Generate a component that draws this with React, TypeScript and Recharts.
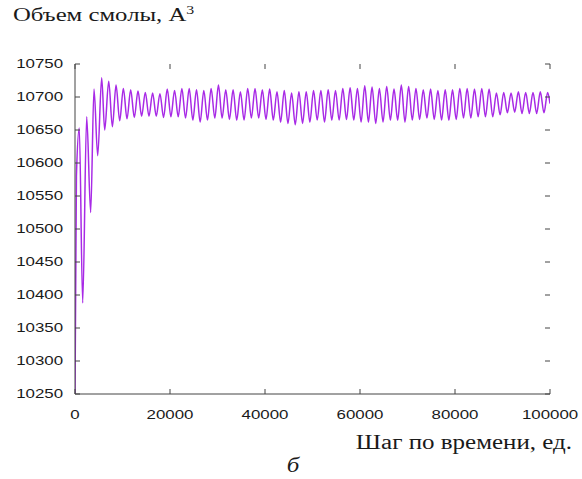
import React from 'react';
import { Line, LineChart, XAxis, YAxis } from 'recharts';

// extrema of the oscillation (time step -> resin volume)
const steps = [
  0, 300, 900, 1620, 2460, 3300, 4000, 4780, 5620, 6250,
  7100, 7870, 8640, 9410, 10180, 10950, 11720, 12490, 13260, 14030,
  14800, 15570, 16340, 17110, 17880, 18650, 19420, 20190, 20960, 21730,
  22500, 23270, 24040, 24810, 25580, 26350, 27120, 27890, 28660, 29430,
  30200, 30970, 31740, 32510, 33280, 34050, 34820, 35590, 36360, 37130,
  37900, 38670, 39440, 40210, 40980, 41750, 42520, 43290, 44060, 44830,
  45600, 46370, 47140, 47910, 48680, 49450, 50220, 50990, 51760, 52530,
  53300, 54070, 54840, 55610, 56380, 57150, 57920, 58690, 59460, 60230,
  61000, 61770, 62540, 63310, 64080, 64850, 65620, 66390, 67160, 67930,
  68700, 69470, 70240, 71010, 71780, 72550, 73320, 74090, 74860, 75630,
  76400, 77170, 77940, 78710, 79480, 80250, 81020, 81790, 82560, 83330,
  84100, 84870, 85640, 86410, 87180, 87950, 88720, 89490, 90260, 91030,
  91800, 92570, 93340, 94110, 94880, 95650, 96420, 97190, 97960, 98730,
  99500, 100000,
];

const volume = [
  10250, 10580, 10653, 10388, 10670, 10525, 10712, 10611, 10729, 10650,
  10724, 10655, 10718, 10664, 10713, 10667, 10711, 10669, 10709, 10671,
  10707, 10671, 10706, 10671, 10705, 10669, 10712, 10670, 10710, 10670,
  10713, 10668, 10713, 10665, 10711, 10662, 10710, 10665, 10713, 10668,
  10718, 10668, 10711, 10666, 10711, 10665, 10708, 10665, 10713, 10668,
  10713, 10668, 10711, 10666, 10712, 10665, 10708, 10662, 10710, 10660,
  10706, 10658, 10708, 10660, 10708, 10662, 10710, 10665, 10710, 10662,
  10711, 10665, 10710, 10665, 10713, 10666, 10714, 10665, 10713, 10662,
  10717, 10662, 10715, 10660, 10713, 10662, 10716, 10665, 10712, 10665,
  10718, 10662, 10716, 10665, 10713, 10666, 10711, 10668, 10712, 10666,
  10710, 10665, 10711, 10665, 10711, 10666, 10713, 10668, 10713, 10668,
  10712, 10670, 10713, 10670, 10712, 10670, 10706, 10673, 10707, 10676,
  10706, 10677, 10708, 10675, 10707, 10675, 10707, 10675, 10708, 10676,
  10707, 10690,
];

const xTicks = [0, 20000, 40000, 60000, 80000, 100000];
const yTicks = [10250, 10300, 10350, 10400, 10450, 10500, 10550, 10600, 10650, 10700, 10750];

const chartData = steps.map((step, i) => ({ step, volume: volume[i] }));

const W = 582;
const H = 479;
const PLOT = { left: 75, right: 550, top: 64, bottom: 394 };
const AXIS = '#444';
const TICK_LEN = 5;
const SANS = '"Liberation Sans", Arial, sans-serif';
const SERIF = '"Liberation Serif", "Times New Roman", serif';

const XTick = ({ x, payload }: any) => (
  <g>
    <line x1={x} x2={x} y1={PLOT.bottom} y2={PLOT.bottom - TICK_LEN} stroke={AXIS} />
    <line x1={x} x2={x} y1={PLOT.top} y2={PLOT.top + TICK_LEN} stroke={AXIS} />
    <text
      transform={`translate(${x},${PLOT.bottom + 25}) scale(1.35,1)`}
      textAnchor="middle"
      fontFamily={SANS}
      fontSize={12.5}
      fill="#1a1a1a"
    >
      {payload.value}
    </text>
  </g>
);

const YTick = ({ y, payload }: any) => (
  <g>
    <line x1={PLOT.left} x2={PLOT.left + TICK_LEN} y1={y} y2={y} stroke={AXIS} />
    <line x1={PLOT.right} x2={PLOT.right - TICK_LEN} y1={y} y2={y} stroke={AXIS} />
    <text
      transform={`translate(${PLOT.left - 12},${y + 3.5}) scale(1.35,1)`}
      textAnchor="end"
      fontFamily={SANS}
      fontSize={12.5}
      fill="#1a1a1a"
    >
      {payload.value}
    </text>
  </g>
);

export default function App() {
  return (
    <div style={{ position: 'absolute', left: 0, top: 0, width: W, height: H, background: '#fff' }}>
      <LineChart
        width={W}
        height={H}
        data={chartData}
        margin={{ top: PLOT.top, right: W - PLOT.right, bottom: H - PLOT.bottom - 30, left: 0 }}
      >
        <XAxis
          dataKey="step"
          type="number"
          domain={[0, 100000]}
          ticks={xTicks}
          height={30}
          tickSize={0}
          tickMargin={0}
          tickLine={false}
          axisLine={{ stroke: AXIS }}
          tick={<XTick />}
          allowDataOverflow
        />
        <XAxis
          xAxisId="top"
          orientation="top"
          dataKey="step"
          type="number"
          domain={[0, 100000]}
          height={0}
          tick={false}
          tickLine={false}
          axisLine={{ stroke: AXIS }}
        />
        <YAxis
          type="number"
          domain={[10250, 10750]}
          ticks={yTicks}
          width={PLOT.left}
          tickSize={0}
          tickMargin={0}
          tickLine={false}
          axisLine={{ stroke: AXIS }}
          tick={<YTick />}
          allowDataOverflow
        />
        <YAxis
          yAxisId="right"
          orientation="right"
          type="number"
          domain={[10250, 10750]}
          width={0}
          tick={false}
          tickLine={false}
          axisLine={{ stroke: AXIS }}
        />
        <Line
          dataKey="volume"
          type="monotone"
          stroke="#a82ae6"
          strokeWidth={1.5}
          dot={false}
          isAnimationActive={false}
        />
      </LineChart>
      <svg
        width={W}
        height={H}
        style={{ position: 'absolute', left: 0, top: 0, pointerEvents: 'none' }}
      >
        <text
          transform="translate(13,21) scale(1.27,1)"
          fontFamily={SERIF}
          fontSize={19.5}
          fill="#1a1a1a"
        >
          Объем смолы, А<tspan dy={-7} fontSize={12.5}>3</tspan>
        </text>
        <text
          transform="translate(572,449) scale(1.25,1)"
          textAnchor="end"
          fontFamily={SERIF}
          fontSize={20}
          fill="#1a1a1a"
        >
          Шаг по времени, ед.
        </text>
        <text
          transform="translate(293,472) scale(1.25,1)"
          textAnchor="middle"
          fontFamily={SERIF}
          fontStyle="italic"
          fontSize={20}
          fill="#1a1a1a"
        >
          б
        </text>
      </svg>
    </div>
  );
}
